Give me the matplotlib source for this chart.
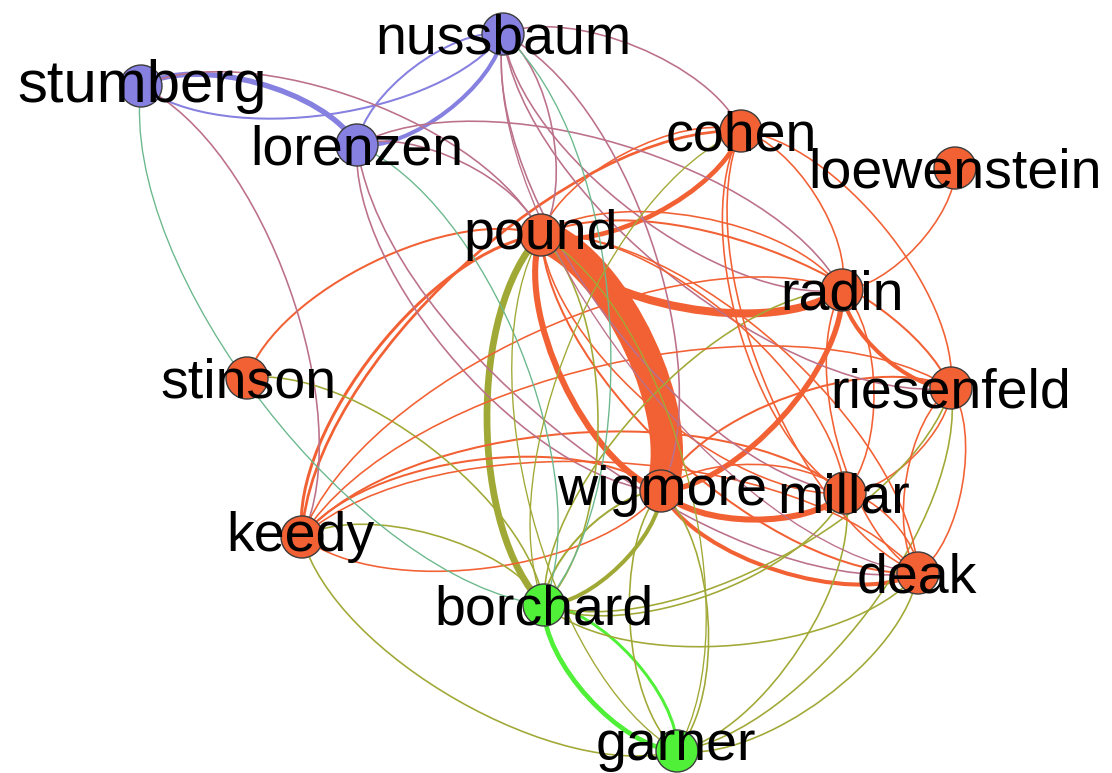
# Co-citation network of legal scholars, redrawn with curved (Gephi-style) edges.
# Each directed edge bows to the left of its direction of travel, so a pair
# A->B / B->A draws as a lens. Edge colour = mix of the two node colours.

import numpy as np
import matplotlib
matplotlib.use("Agg")
import matplotlib.pyplot as plt
from matplotlib.path import Path
from matplotlib.patches import PathPatch, Circle
from matplotlib.textpath import TextPath
from matplotlib.font_manager import FontProperties
from matplotlib.colors import to_rgb

W, H, DPI = 1112, 773, 100

# ====== NODES (layout in canvas units, y grows downward) ======
NODES = ["nussbaum", "stumberg", "lorenzen", "cohen", "loewenstein", "pound",
         "radin", "stinson", "riesenfeld", "wigmore", "millar", "keedy",
         "deak", "borchard", "garner"]
NODE_X = [503, 141, 357, 741, 955, 541, 842, 247, 951, 661, 845, 302, 918, 544, 677]
NODE_Y = [34, 86, 145, 131, 168, 235, 290, 378, 388, 491, 493, 537, 573, 605, 751]
NODE_GROUP = ["blue", "blue", "blue", "red", "red", "red", "red", "red", "red",
              "red", "red", "red", "red", "green", "green"]

# ====== EDGES (source, target) and weights ======
EDGE_PAIRS = [
    # red - red
    ("pound", "wigmore"), ("wigmore", "pound"), ("radin", "pound"), ("radin", "wigmore"),
    ("cohen", "pound"), ("millar", "wigmore"), ("deak", "wigmore"), ("riesenfeld", "radin"),
    ("keedy", "pound"), ("keedy", "cohen"), ("stinson", "pound"), ("keedy", "wigmore"),
    ("keedy", "millar"), ("keedy", "deak"), ("keedy", "riesenfeld"), ("keedy", "radin"),
    ("wigmore", "keedy"), ("loewenstein", "radin"), ("pound", "cohen"), ("millar", "cohen"),
    ("deak", "cohen"), ("cohen", "radin"), ("cohen", "riesenfeld"), ("pound", "radin"),
    ("pound", "riesenfeld"), ("pound", "millar"), ("pound", "deak"), ("millar", "pound"),
    ("deak", "pound"), ("wigmore", "riesenfeld"), ("riesenfeld", "deak"), ("deak", "riesenfeld"),
    ("riesenfeld", "millar"), ("millar", "deak"), ("radin", "millar"), ("deak", "radin"),
    ("wigmore", "millar"),
    # red - green
    ("borchard", "pound"), ("pound", "borchard"), ("wigmore", "borchard"), ("borchard", "wigmore"),
    ("riesenfeld", "borchard"), ("millar", "borchard"), ("deak", "borchard"), ("stinson", "borchard"),
    ("keedy", "borchard"), ("garner", "keedy"), ("garner", "wigmore"), ("wigmore", "garner"),
    ("deak", "garner"), ("millar", "garner"), ("riesenfeld", "garner"), ("pound", "garner"),
    ("garner", "pound"), ("borchard", "radin"), ("borchard", "cohen"),
    # green - green
    ("garner", "borchard"), ("borchard", "garner"),
    # blue - blue
    ("stumberg", "lorenzen"), ("nussbaum", "stumberg"), ("nussbaum", "lorenzen"), ("lorenzen", "nussbaum"),
    # blue - red
    ("nussbaum", "cohen"), ("nussbaum", "pound"), ("nussbaum", "wigmore"), ("millar", "nussbaum"),
    ("riesenfeld", "nussbaum"), ("radin", "nussbaum"), ("deak", "nussbaum"), ("lorenzen", "pound"),
    ("lorenzen", "radin"), ("deak", "lorenzen"), ("wigmore", "lorenzen"), ("stumberg", "pound"),
    ("stumberg", "keedy"),
    # blue - green
    ("borchard", "stumberg"), ("lorenzen", "borchard"), ("nussbaum", "borchard"),
]
EDGE_WEIGHTS = [
    24, 4.5, 6, 4,
    3.5, 4.5, 3, 3,
    2.2, 2, 1.5, 1.5,
    1.5, 1.2, 1.2, 1.2,
    1.2, 1.2, 1.2, 1.2,
    1.2, 1.2, 1.2, 1.2,
    1.5, 1.2, 1.2, 1.2,
    1.5, 1.5, 1.2, 1.2,
    1.2, 1.2, 1.2, 1.2,
    1.2,
    5, 1.2, 3, 1.5,
    1.2, 1.2, 1.2, 1.2,
    1.2, 1.2, 1.2, 1.2,
    1.2, 1.2, 1.2, 1,
    1, 1.2, 1,
    3.5, 2.2,
    4, 1.5, 3, 1.5,
    1.2, 1.2, 1.2, 1.2,
    1.2, 1.2, 1, 1.2,
    1.2, 1.2, 1.2, 1.2,
    1.2,
    1, 1, 1,
]

GROUP_COLOR = {"blue": "#8680E0", "red": "#F26134", "green": "#50F038"}
LABEL_PX = 55.5            # label height in canvas pixels
BIG_LABEL = {"stumberg": 60}
NODE_R = 21
CURVE_RATIO = 0.2


def curved_path(x1, y1, x2, y2, ratio=CURVE_RATIO):
    """Cubic bezier bowing to the left of travel (screen coords, y down)."""
    dx, dy = x2 - x1, y2 - y1
    length = np.hypot(dx, dy)
    ux, uy = dx / length, dy / length
    nx, ny = uy, -ux
    f = ratio * length
    c1 = (x1 + (ux + nx) * f, y1 + (uy + ny) * f)
    c2 = (x2 + (-ux + nx) * f, y2 + (-uy + ny) * f)
    return Path([(x1, y1), c1, c2, (x2, y2)],
                [Path.MOVETO, Path.CURVE4, Path.CURVE4, Path.CURVE4])


def mix(c1, c2):
    a, b = np.array(to_rgb(c1)), np.array(to_rgb(c2))
    return tuple((a + b) / 2)


def main():
    pos = {n: (x, y) for n, x, y in zip(NODES, NODE_X, NODE_Y)}
    col = {n: GROUP_COLOR[g] for n, g in zip(NODES, NODE_GROUP)}

    fig = plt.figure(figsize=(W / DPI, H / DPI), dpi=DPI)
    ax = fig.add_axes([0, 0, 1, 1])
    ax.set_xlim(0, W)
    ax.set_ylim(H, 0)
    ax.axis("off")

    px_to_pt = 72.0 / DPI

    # edges, thick ones first
    order = np.argsort(EDGE_WEIGHTS)[::-1]
    for i in order:
        s, t = EDGE_PAIRS[i]
        (x1, y1), (x2, y2) = pos[s], pos[t]
        path = curved_path(x1, y1, x2, y2)
        ax.add_patch(PathPatch(path, facecolor="none", edgecolor=mix(col[s], col[t]),
                               lw=1.35 * EDGE_WEIGHTS[i] * px_to_pt, capstyle="butt",
                               zorder=1))

    # nodes
    for n in NODES:
        ax.add_patch(Circle(pos[n], NODE_R, facecolor=col[n], edgecolor="#3c3c3c",
                            lw=1.0, zorder=2))

    # labels, centred on their ink box
    for n in NODES:
        size_px = BIG_LABEL.get(n, LABEL_PX)
        fp = FontProperties(family="Liberation Sans", size=size_px)
        bb = TextPath((0, 0), n, size=size_px, prop=fp).get_extents()
        x, y = pos[n]
        ax.text(x - (bb.x0 + bb.x1) / 2, y + (bb.y0 + bb.y1) / 2, n,
                fontsize=size_px * px_to_pt, family="Liberation Sans",
                ha="left", va="baseline", color="black", zorder=3)

    fig.savefig("out.png", dpi=DPI)
    plt.close(fig)


if __name__ == "__main__":
    main()
